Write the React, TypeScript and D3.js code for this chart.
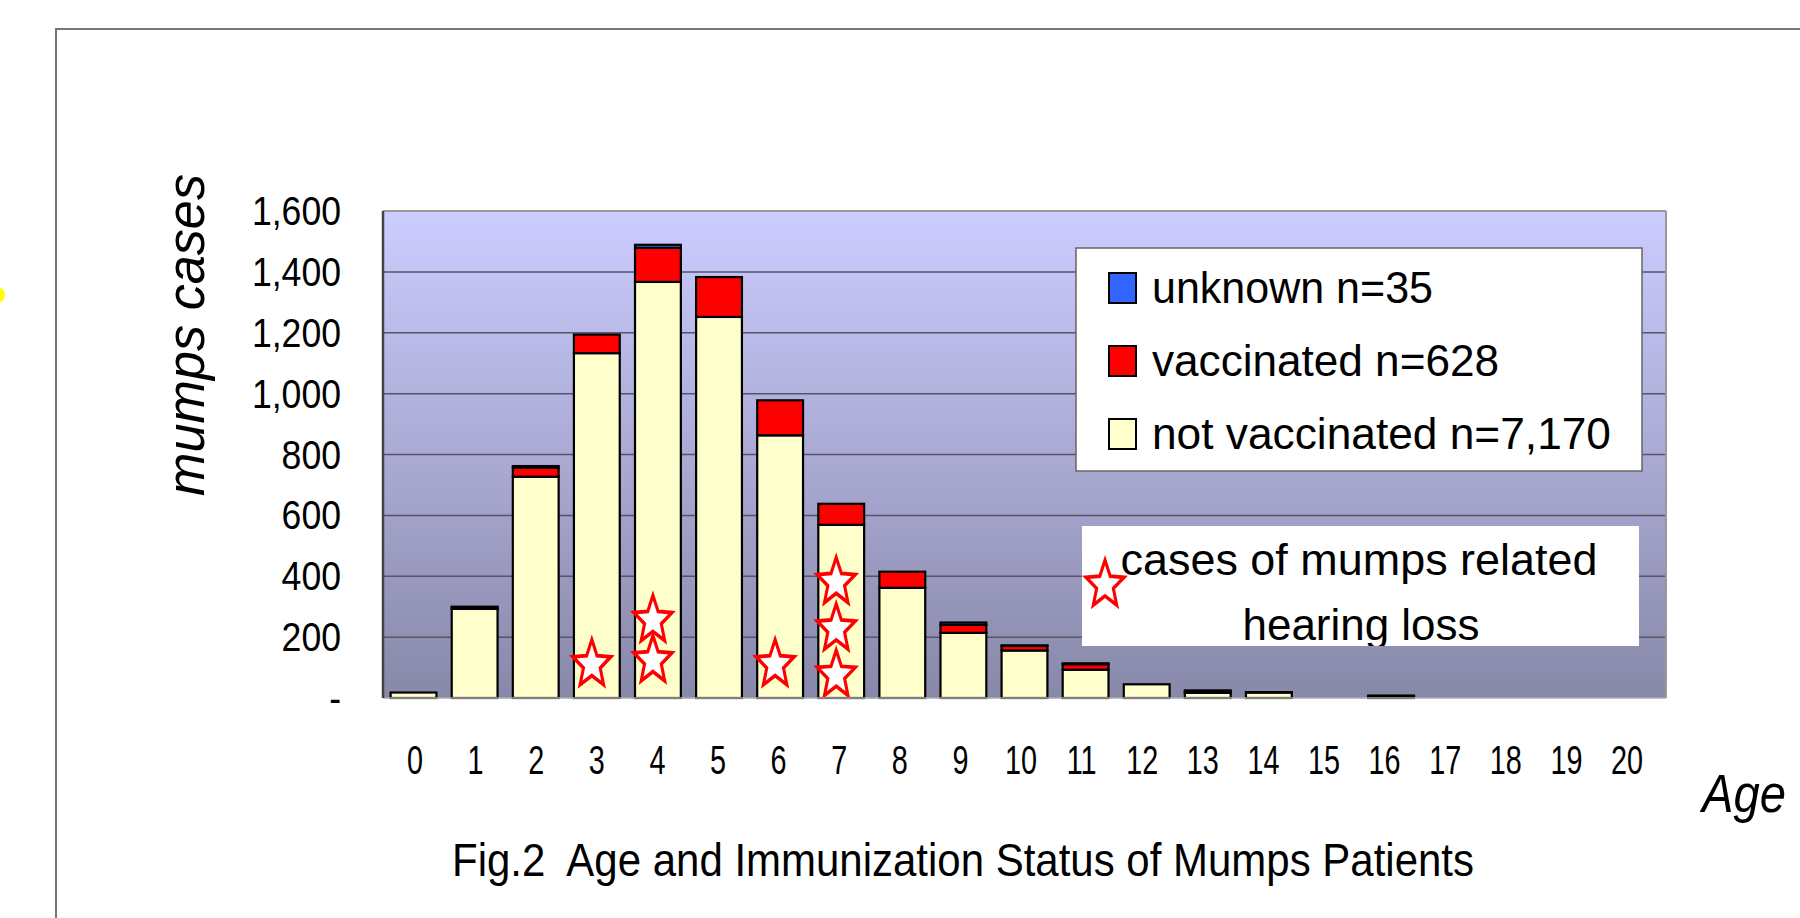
import React from "react";
import * as d3 from "d3";

// ages on the x axis
const ages = ["0", "1", "2", "3", "4", "5", "6", "7", "8", "9", "10", "11", "12", "13", "14", "15", "16", "17", "18", "19", "20"];

// stacked series, bottom to top
const notVaccinated = [18, 293, 727, 1133, 1367, 1252, 863, 569, 362, 214, 156, 93, 45, 17, 18, 0, 3, 0, 0, 0, 0];
const vaccinated = [0, 4, 30, 61, 112, 131, 115, 69, 53, 26, 15, 18, 0, 3, 0, 0, 2, 0, 0, 0, 0];
const unknown = [0, 3, 5, 0, 10, 0, 0, 0, 0, 8, 2, 3, 0, 5, 1, 0, 3, 0, 0, 0, 0];

const yTicks = [0, 200, 400, 600, 800, 1000, 1200, 1400, 1600];

// hearing loss cases (age, height on the bar)
const starAges = ["3", "4", "4", "6", "7", "7", "7"];
const starLevels = [110, 255, 123, 110, 380, 227, 75];

const legendLabels = ["unknown n=35", "vaccinated n=628", "not vaccinated n=7,170"];
const legendColors = ["#3366FF", "#FF0000", "#FFFFCC"];
const legendWidths = [281, 347, 459];

const FONT = "'Liberation Sans', Arial, sans-serif";

const App = () => {
  const width = 1800,
    height = 918;
  const left = 383,
    right = 1666,
    top = 211,
    bottom = 698;

  const x = d3
    .scaleBand()
    .domain(ages)
    .range([left, right])
    .paddingInner(0.25)
    .paddingOuter(0.125);
  // tick labels in the original sit on a slightly tighter spacing than the bars
  const xLabel = d3.scalePoint().domain(ages).range([415, 1627]);
  const y = d3.scaleLinear().domain([0, 1600]).range([bottom, top]);

  const rows = ages.map((a, i) => ({
    age: a,
    nv: notVaccinated[i],
    vac: vaccinated[i],
    unk: unknown[i],
  }));
  const keys = ["nv", "vac", "unk"];
  const fills = { nv: "#FFFFCC", vac: "#FF0000", unk: "#3366FF" };
  const series = d3.stack().keys(keys)(rows as any);

  const star = (R: number, r: number) =>
    d3
      .lineRadial()
      .curve(d3.curveLinearClosed)(
        d3.range(10).map((i) => [(i * Math.PI) / 5, i % 2 ? r : R]) as any
      ) as string;
  const starD = star(25, 11);

  const fmt = (d: number) => (d === 0 ? "-" : d3.format(",")(d));

  return (
    <svg
      width={width}
      height={height}
      style={{ position: "absolute", left: 0, top: 0, background: "#fff" }}
      fontFamily={FONT}
    >
      <defs>
        <linearGradient id="bg" x1="0" y1="0" x2="0" y2="1">
          <stop offset="0%" stopColor="#CCCCFF" />
          <stop offset="100%" stopColor="#8888A9" />
        </linearGradient>
        <clipPath id="leg2">
          <rect x={1082} y={526} width={557} height={120} />
        </clipPath>
      </defs>

      {/* outer frame */}
      <rect x={56} y={29} width={1900} height={1000} fill="none" stroke="#777" strokeWidth={2} />
      <circle cx={-3} cy={295} r={8} fill="#FFFF00" />

      {/* plot background */}
      <rect x={left} y={top} width={right - left} height={bottom - top} fill="url(#bg)" />

      {/* gridlines */}
      {yTicks.slice(1).map((t) => (
        <line key={t} x1={left} x2={right} y1={y(t)} y2={y(t)} stroke="#555566" strokeWidth={1.5} />
      ))}

      {/* bars */}
      {series.map((s) => (
        <g key={s.key} fill={fills[s.key]} stroke="#000" strokeWidth={2.2}>
          {s
            .filter((d) => d[1] - d[0] > 0)
            .map((d) => (
              <rect
                key={d.data.age}
                x={x(d.data.age as any)}
                width={x.bandwidth()}
                y={y(d[1])}
                height={y(d[0]) - y(d[1])}
              />
            ))}
        </g>
      ))}

      {/* stars */}
      {starAges.map((a, i) => (
        <path
          key={i}
          d={starD}
          transform={`translate(${x(a)! + x.bandwidth() / 2 - 5},${y(starLevels[i])}) scale(0.8,1)`}
          fill="#fff"
          stroke="#FF0000"
          strokeWidth={3.8}
        />
      ))}

      {/* plot border */}
      <line x1={left} x2={right} y1={top} y2={top} stroke="#999" strokeWidth={2} />
      <line x1={right} x2={right} y1={top} y2={bottom} stroke="#999" strokeWidth={2} />
      <line x1={left} x2={right} y1={bottom} y2={bottom} stroke="#aaa" strokeWidth={1.5} />
      <line x1={left} x2={left} y1={top} y2={bottom} stroke="#444" strokeWidth={2.5} />

      {/* y tick labels */}
      {yTicks.map((t) => (
        <text
          key={t}
          transform={`translate(341,${y(t) + 14}) scale(0.89,1)`}
          textAnchor="end"
          fontSize={40}
        >
          {fmt(t)}
        </text>
      ))}

      {/* x tick labels */}
      {ages.map((a) => (
        <text
          key={a}
          transform={`translate(${xLabel(a)},774) scale(0.72,1)`}
          textAnchor="middle"
          fontSize={40}
        >
          {a}
        </text>
      ))}

      {/* axis titles */}
      <text
        transform="translate(204,335) rotate(-90)"
        textAnchor="middle"
        fontSize={53}
        fontStyle="italic"
        textLength={322}
        lengthAdjust="spacingAndGlyphs"
      >
        mumps cases
      </text>
      <text x={1702} y={812} fontSize={54} fontStyle="italic" textLength={84} lengthAdjust="spacingAndGlyphs">
        Age
      </text>

      {/* legend */}
      <rect x={1076} y={248} width={566} height={223} fill="#fff" stroke="#666" strokeWidth={1.5} />
      {legendLabels.map((l, i) => {
        const cy = 288 + i * 73;
        return (
          <g key={l}>
            <rect x={1109} y={cy - 15} width={27} height={30} fill={legendColors[i]} stroke="#000" strokeWidth={2} />
            <text
              x={1152}
              y={cy + 15}
              fontSize={45}
              textLength={legendWidths[i]}
              lengthAdjust="spacingAndGlyphs"
            >
              {l}
            </text>
          </g>
        );
      })}

      <rect x={1082} y={526} width={557} height={120} fill="#fff" />
      <g clipPath="url(#leg2)">
        <text x={1359} y={575} textAnchor="middle" fontSize={45} textLength={477} lengthAdjust="spacingAndGlyphs">
          cases of mumps related
        </text>
        <text x={1361} y={640} textAnchor="middle" fontSize={45} textLength={237} lengthAdjust="spacingAndGlyphs">
          hearing loss
        </text>
      </g>
      <path
        d={starD}
        transform="translate(1105,585) scale(0.8,1)"
        fill="#fff"
        stroke="#FF0000"
        strokeWidth={3.8}
      />

      {/* caption */}
      <text
        x={452}
        y={876}
        fontSize={46}
        textLength={1022}
        lengthAdjust="spacingAndGlyphs"
        style={{ whiteSpace: "pre" }}
      >
        {"Fig.2  Age and Immunization Status of Mumps Patients"}
      </text>
    </svg>
  );
};

export default App;
